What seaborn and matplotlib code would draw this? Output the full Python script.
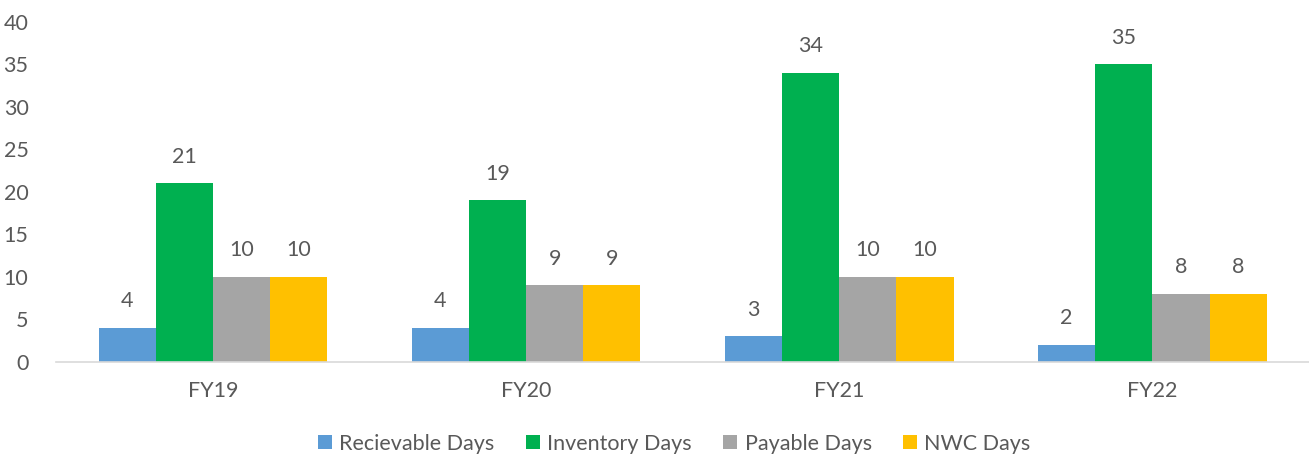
import seaborn as sns
import matplotlib.pyplot as plt
import pandas as pd

years = ["FY19", "FY20", "FY21", "FY22"]
series = ["Recievable Days", "Inventory Days", "Payable Days", "NWC Days"]
recievable = [4, 4, 3, 2]
inventory = [21, 19, 34, 35]
payable = [10, 9, 10, 8]
nwc = [10, 9, 10, 8]
colors = ["#5B9BD5", "#00B050", "#A5A5A5", "#FFC000"]

df = pd.DataFrame({
    "year": years * 4,
    "metric": [s for s in series for _ in years],
    "days": recievable + inventory + payable + nwc,
})

sns.set_style("white")
plt.rcParams["font.family"] = ["Lato", "DejaVu Sans"]
txt = "#595959"

fig = plt.figure(figsize=(13.09, 4.57), dpi=100)
ax = fig.add_axes([0.043, 0.208, 0.957, 0.744])

sns.barplot(data=df, x="year", y="days", hue="metric", palette=colors,
            width=0.73, gap=0, saturation=1, linewidth=0, ax=ax, legend=True)

for c in ax.containers:
    ax.bar_label(c, padding=12, fontsize=15.5, color=txt)

ax.set_ylim(0, 40)
ax.set_yticks(range(0, 41, 5))
ax.set_xlim(-0.5, 3.5)
ax.set_xlabel("")
ax.set_ylabel("")
for s in ["top", "right", "left"]:
    ax.spines[s].set_visible(False)
ax.spines["bottom"].set_color("#D9D9D9")
ax.spines["bottom"].set_linewidth(1.2)
ax.tick_params(axis="both", length=0, labelsize=15.5, colors=txt)
ax.tick_params(axis="x", pad=14)
ax.tick_params(axis="y", pad=20)

handles, labels = ax.get_legend_handles_labels()
ax.get_legend().remove()
fig.legend(handles, labels, loc="lower center", bbox_to_anchor=(0.515, -0.035),
           ncol=4, frameon=False, fontsize=15.5, labelcolor=txt,
           handlelength=0.65, handleheight=0.65, handletextpad=0.35, columnspacing=1.45)

fig.savefig("out.png", dpi=100)
